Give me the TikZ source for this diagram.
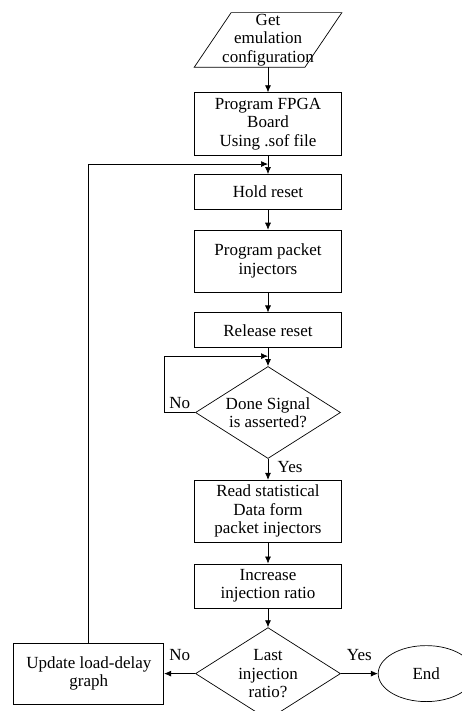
\documentclass[tikz,border=0pt]{standalone}
\usepackage{fontspec}
\setmainfont{Liberation Serif}
\usetikzlibrary{positioning}
\usetikzlibrary{shapes.geometric}
\usetikzlibrary{arrows.meta}

\begin{document}
\begin{tikzpicture}[
                x = 1pt,
                y = 1pt,
                font = \fontsize{17}{18.5}\selectfont,
                line width = 0.7pt,
                box/.style = {
                    draw,
                    rectangle,
                    minimum width = 147pt,
                    minimum height = #1,
                    inner sep = 2pt,
                    align = center
                },
                box/.default = 35pt,
                decision/.style = {
                    draw,
                    diamond,
                    aspect = 1.58,
                    minimum width = 145pt,
                    minimum height = 92pt,
                    inner sep = 0pt,
                    align = center
                },
                flow/.style = {-{Latex[length=7pt, width=6pt]}},
                node distance = {20pt}
            ]
            \useasboundingbox (0,0) rectangle (462,-711);
            % input
            \node[minimum width = 110pt, minimum height = 54pt, inner sep = 0pt, align = center] (get) at (268,-40) {Get\\emulation\\configuration};
            \draw ([xshift=18.5pt]get.north west) -- ([xshift=18.5pt]get.north east) -- ([xshift=-18.5pt]get.south east) -- ([xshift=-18.5pt]get.south west) -- cycle;
            % 
            \node[box=63pt, below=25pt of get] (fpga) {Program FPGA\\Board\\Using .sof file};
            \node[box, below=18pt of fpga] (hold) {Hold reset};
            \node[box=62pt, below=20pt of hold] (packet) {Program packet\\injectors};
            \node[box, below=20pt of packet] (release) {Release reset};
            \node[decision, below=18pt of release] (done) {Done Signal\\is asserted?};
            % 
            \node[box=62pt, below=21pt of done] (read) {Read statistical\\Data form\\packet injectors};
            \node[box=44pt, below=21pt of read] (incr) {Increase\\injection ratio};
            \node[decision, below=19pt of incr] (last) {Last\\injection\\ratio?};
            % 
            \node[box=61pt, minimum width = 150pt, left=31pt of last] (update) {Update load-delay\\graph};
            \node[draw, ellipse, minimum width = 96pt, minimum height = 56pt, right=37pt of last] (end) {End};
            % 
            \coordinate[below=8pt of fpga.south] (merge);
            \coordinate[below=8pt of release.south] (wait);
            % 
            \draw[flow] (get) -- (fpga);
            \draw[flow] (fpga) -- (hold);
            \draw[flow] (hold) -- (packet);
            \draw[flow] (packet) -- (release);
            \draw[flow] (release) -- (done);
            \draw[flow] (done.west) -- node[above]{No} ++(-31,0) |- (wait);
            \draw[flow] (done) -- node[pos=0.4, right, xshift=6pt]{Yes} (read);
            \draw[flow] (read) -- (incr);
            \draw[flow] (incr) -- (last);
            % 
            \draw[flow] (last.west) -- node[above, yshift=9pt]{No} (update);
            \draw[flow] (last.east) -- node[above, yshift=9pt]{Yes} (end);
            \draw[flow] (update) |- (merge);
            % 
        \end{tikzpicture}
\end{document}
